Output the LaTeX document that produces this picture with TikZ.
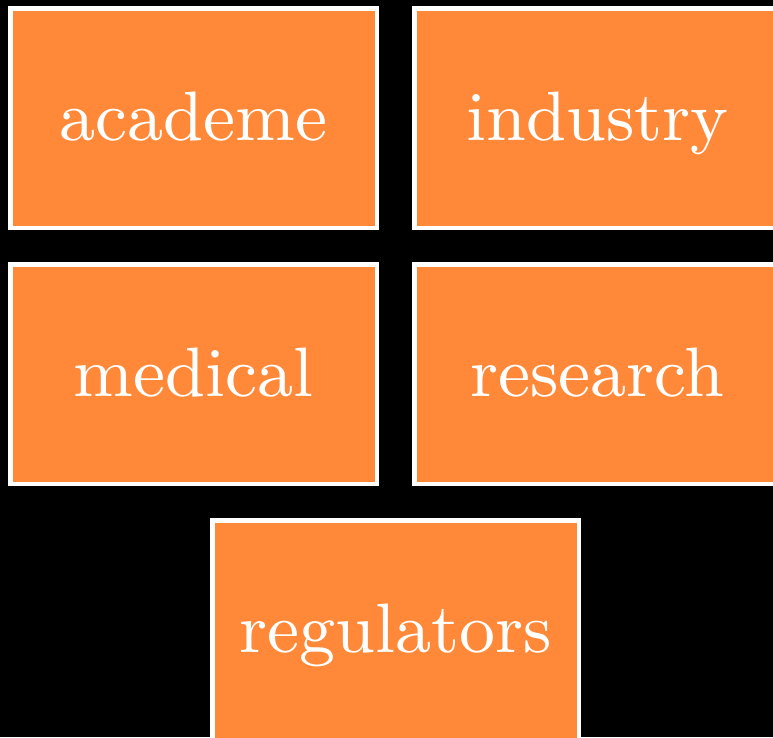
\documentclass[tikz,border=0pt]{standalone}
\usepackage{fontspec}
\newfontfamily\lmnine{lmroman9-regular}[Extension=.otf]
\definecolor{boxorange}{RGB}{255,137,56}
\tikzset{
  box/.style={draw=white, line width=4.5pt, fill=boxorange, text=white,
    minimum width=366.5pt, minimum height=219.5pt, inner sep=0pt,
    text height=44pt, text depth=0pt,
    font=\lmnine\fontsize{70}{84}\selectfont}
}
\begin{document}
\begin{tikzpicture}[x=1pt,y=1pt]
\useasboundingbox (0,0) rectangle (773,-737);
\fill[black] (0,0) rectangle (773,-737);
\clip (0,0) rectangle (773,-737);
\node[box] (academe) at (193.5,-118) {academe};
\node[box] (industry) at (597.5,-118) {industry};
\node[box] (medical) at (193.5,-374) {medical};
\node[box] (research) at (597.5,-374) {research};
\node[box] (regulators) at (395.5,-630) {regulators};
\end{tikzpicture}
\end{document}
